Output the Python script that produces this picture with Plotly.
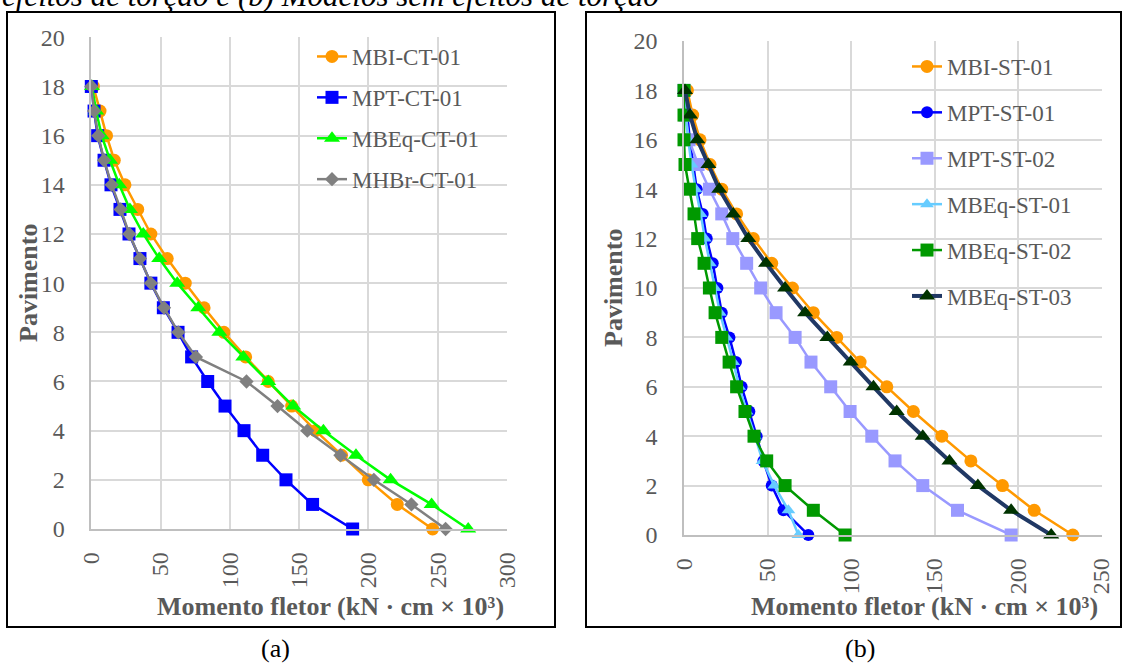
import plotly.graph_objects as go

# page is 1127x665; the default 8px body margin is removed by a post script
W, H = 1127, 665
OFF = 0

# ---------------- data ----------------
floors = list(range(0, 19))

# panel (a) - models with torsion effects (kN.cm x 10^3), floor 0 -> 18
MBI_CT_01 = [246.3, 220.8, 199.9, 180.6, 161.8, 144.6, 127.7, 111.4, 95.7, 81.4,
             67.8, 54.8, 43.0, 33.5, 24.3, 16.6, 11.0, 6.3, 1.5]
MPT_CT_01 = [188.6, 159.7, 140.5, 123.7, 110.2, 96.5, 84.0, 72.4, 62.6, 52.0,
             43.0, 35.1, 27.2, 20.7, 14.2, 9.2, 4.6, 2.0, 0.0]
MBEq_CT_01 = [272.0, 245.6, 216.0, 191.0, 167.5, 145.7, 127.7, 109.7, 92.4, 77.2,
              62.0, 49.0, 37.5, 27.9, 20.2, 13.5, 7.5, 3.5, 0.5]
MHBr_CT_01 = [255.7, 231.0, 203.9, 179.8, 155.9, 134.4, 112.0, 75.5, 62.8, 52.5,
              43.0, 35.1, 27.4, 21.2, 14.7, 9.2, 5.0, 2.0, 0.0]

# panel (b) - models without torsion effects
MBI_ST_01 = [232.7, 209.6, 190.6, 171.7, 154.3, 137.3, 121.4, 105.4, 91.4, 77.4,
             64.9, 52.5, 41.5, 31.5, 22.6, 15.6, 9.6, 5.2, 2.0]
MPT_ST_01 = [74.4, 59.5, 52.5, 47.5, 43.5, 39.1, 34.5, 31.1, 27.2, 22.6,
             20.0, 17.2, 13.6, 11.2, 7.6, 5.5, 3.5, 2.0, 0.5]
MPT_ST_02 = [195.8, 163.7, 142.9, 126.3, 112.4, 99.4, 87.8, 76.0, 66.5, 55.1,
             45.9, 37.5, 29.2, 22.6, 15.2, 8.4, 3.0, 1.0, 0.0]
MBEq_ST_01 = [68.5, 62.5, 54.0, 47.0, 42.5, 37.5, 33.0, 29.5, 25.5, 21.5,
              18.5, 15.5, 12.5, 10.0, 7.0, 4.5, 2.5, 1.0, 0.0]
MBEq_ST_02 = [96.4, 77.4, 60.5, 49.5, 41.9, 36.5, 31.5, 27.0, 22.6, 18.6,
              15.2, 12.0, 8.2, 6.0, 3.2, 0.6, 0.0, 0.0, 0.0]
MBEq_ST_03 = [219.8, 195.8, 175.9, 158.9, 142.9, 127.3, 113.4, 99.8, 85.8, 72.5,
              60.5, 49.1, 38.5, 29.5, 21.1, 14.6, 8.0, 3.6, 0.6]

x_ticks_a = [0, 50, 100, 150, 200, 250, 300]
x_ticks_b = [0, 50, 100, 150, 200, 250]
y_ticks = [0, 2, 4, 6, 8, 10, 12, 14, 16, 18, 20]

x_title = "Momento fletor (kN · cm × 10³)"
y_title = "Pavimento"
top_text = "efeitos de torção e (b) Modelos sem efeitos de torção"

# ---------------- helpers (page pixel -> paper fraction) ----------------
def px(x):
    return (x - OFF) / W


def py(y):
    return 1 - (y - OFF) / H


SERIF = "Liberation Serif, Times New Roman, serif"
GREY_TXT = "#595959"

fig = go.Figure()

series_a = [
    ("MBI-CT-01", MBI_CT_01, "#FF9900", "#FF9900", "circle", 13, 2.5),
    ("MPT-CT-01", MPT_CT_01, "#0000FF", "#0000FF", "square", 13, 2.5),
    ("MBEq-CT-01", MBEq_CT_01, "#00FF00", "#00FF00", "triangle-up", 14, 2.5),
    ("MHBr-CT-01", MHBr_CT_01, "#808080", "#808080", "diamond", 11, 2.5),
]
for name, vals, lc, mc, sym, ms, lw in series_a:
    fig.add_trace(go.Scatter(
        x=vals, y=floors, name=name, mode="lines+markers",
        line=dict(color=lc, width=lw),
        marker=dict(color=mc, symbol=sym, size=ms),
        xaxis="x", yaxis="y", legend="legend", legendgroup=name,
        cliponaxis=False,
    ))

series_b = [
    ("MBI-ST-01", MBI_ST_01, "#FF9900", "#FF9900", "circle", 13, 2.5),
    ("MPT-ST-01", MPT_ST_01, "#0000FF", "#0000FF", "circle", 12, 2.5),
    ("MPT-ST-02", MPT_ST_02, "#9999FF", "#9999FF", "square", 13, 2.5),
    ("MBEq-ST-01", MBEq_ST_01, "#66CCFF", "#66CCFF", "triangle-up", 12, 2.5),
    ("MBEq-ST-02", MBEq_ST_02, "#009900", "#009900", "square", 13, 2.5),
    ("MBEq-ST-03", MBEq_ST_03, "#203864", "#003300", "triangle-up", 14, 4),
]
for name, vals, lc, mc, sym, ms, lw in series_b:
    fig.add_trace(go.Scatter(
        x=vals, y=floors, name=name, mode="lines+markers",
        line=dict(color=lc, width=lw),
        marker=dict(color=mc, symbol=sym, size=ms),
        xaxis="x2", yaxis="y2", legend="legend2", legendgroup=name,
        cliponaxis=False,
    ))

axis_common = dict(
    showgrid=True, gridcolor="#d9d9d9", gridwidth=1.5,
    zeroline=False, showline=True, linecolor="#bfbfbf", linewidth=1.5,
    ticks="", tickfont=dict(family=SERIF, size=24, color=GREY_TXT),
    fixedrange=True, automargin=False,
)

fig.update_layout(
    width=W, height=H, autosize=False,
    margin=dict(l=0, r=0, t=0, b=0, pad=0, autoexpand=False),
    paper_bgcolor="white", plot_bgcolor="white",
    xaxis=dict(domain=[px(91.3), px(507)], range=[0, 300], tickvals=x_ticks_a,
               tickangle=-90, ticklabelstandoff=12, anchor="y", **axis_common),
    yaxis=dict(domain=[py(529), py(37.3)], range=[0, 20], tickvals=y_ticks,
               ticklabelstandoff=20, anchor="x", **axis_common),
    xaxis2=dict(domain=[px(684), px(1101.7)], range=[0, 250], tickvals=x_ticks_b,
                tickangle=-90, ticklabelstandoff=12, anchor="y2", **axis_common),
    yaxis2=dict(domain=[py(535), py(41)], range=[0, 20], tickvals=y_ticks,
                ticklabelstandoff=20, anchor="x2", **axis_common),
    legend=dict(x=px(312), y=py(35), xanchor="left", yanchor="top",
                bgcolor="rgba(0,0,0,0)", tracegroupgap=8,
                font=dict(family=SERIF, size=23, color=GREY_TXT)),
    legend2=dict(x=px(907), y=py(45), xanchor="left", yanchor="top",
                 bgcolor="rgba(0,0,0,0)", tracegroupgap=13,
                 font=dict(family=SERIF, size=23, color=GREY_TXT)),
    showlegend=True,
)

# panel frames
for x0, x1 in [(7, 555), (586, 1121)]:
    fig.add_shape(type="rect", xref="paper", yref="paper",
                  x0=px(x0), x1=px(x1), y0=py(627), y1=py(12),
                  line=dict(color="black", width=2), fillcolor="rgba(0,0,0,0)",
                  layer="below")

annots = [
    dict(text="<b>" + x_title + "</b>", x=px(330), y=py(606), size=26),
    dict(text="<b>" + x_title + "</b>", x=px(924), y=py(606), size=26),
    dict(text="<b>" + y_title + "</b>", x=px(28), y=py(283), size=26, angle=-90),
    dict(text="<b>" + y_title + "</b>", x=px(613), y=py(288), size=26, angle=-90),
]
for a in annots:
    fig.add_annotation(text=a["text"], x=a["x"], y=a["y"], xref="paper", yref="paper",
                       showarrow=False, xanchor="center", yanchor="middle",
                       textangle=a.get("angle", 0),
                       font=dict(family=SERIF, size=a["size"], color=GREY_TXT))

for t, xc in [("(a)", 275), ("(b)", 860)]:
    fig.add_annotation(text=t, x=px(xc), y=py(648), xref="paper", yref="paper",
                       showarrow=False, xanchor="center", yanchor="middle",
                       font=dict(family=SERIF, size=26, color="black"))

# caption line of the source document, cut by the top edge as in the reference
fig.add_annotation(text="<i>" + top_text + "</i>", x=px(0), y=py(15), xref="paper", yref="paper",
                   showarrow=False, xanchor="left", yanchor="bottom",
                   font=dict(family=SERIF, size=31, color="black"))

fig.write_html("out.html",
               config={"displayModeBar": False},
               post_script="document.body.style.margin='0px';")
